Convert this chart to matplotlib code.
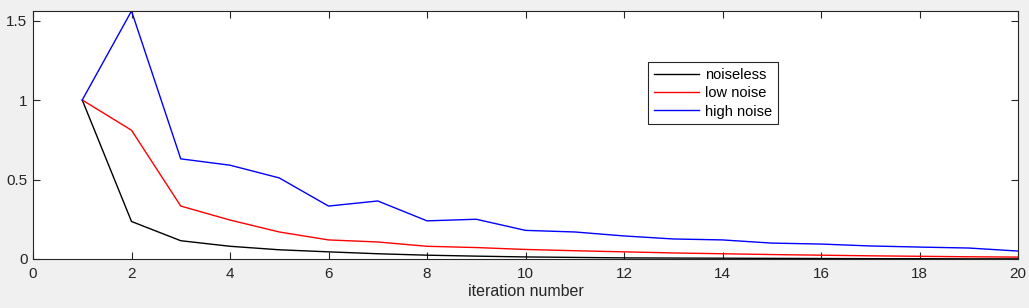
import matplotlib
matplotlib.use("Agg")
import matplotlib.pyplot as plt

iterations = list(range(1, 21))
noiseless = [1.0, 0.236, 0.115, 0.08, 0.058, 0.045, 0.033, 0.024, 0.018, 0.013,
             0.010, 0.007, 0.006, 0.005, 0.004, 0.003, 0.002, 0.002, 0.001, 0.001]
low_noise = [1.0, 0.81, 0.333, 0.245, 0.17, 0.12, 0.107, 0.08, 0.072, 0.06,
             0.052, 0.045, 0.038, 0.033, 0.028, 0.024, 0.02, 0.017, 0.014, 0.012]
high_noise = [1.0, 1.56, 0.63, 0.59, 0.51, 0.333, 0.365, 0.24, 0.25, 0.18,
              0.17, 0.145, 0.126, 0.12, 0.10, 0.094, 0.082, 0.075, 0.069, 0.05]
labels = ["noiseless", "low noise", "high noise"]
xticks = [0, 2, 4, 6, 8, 10, 12, 14, 16, 18, 20]
yticks = [0, 0.5, 1, 1.5]
ytick_labels = ["0", "0.5", "1", "1.5"]

plt.rcParams['font.family'] = ['Liberation Sans', 'DejaVu Sans']

fig = plt.figure(figsize=(10.29, 3.08), dpi=100, facecolor='#f0f0f0')
ax = fig.add_axes([33/1029, 49/308, (1018-33)/1029, (259-11)/308])
ax.set_facecolor('white')

ax.plot(iterations, noiseless, color='black', lw=1, label=labels[0])
ax.plot(iterations, low_noise, color='red', lw=1, label=labels[1])
ax.plot(iterations, high_noise, color='blue', lw=1, label=labels[2])

ax.set_xlim(0, 20)
ax.set_ylim(0, 1.56)
ax.set_xticks(xticks)
ax.set_yticks(yticks)
ax.set_yticklabels(ytick_labels)
ax.tick_params(direction='in', top=True, right=True, length=5, width=0.8,
               labelsize=11, labelcolor='#262626', colors='#262626')
ax.tick_params(axis='x', pad=6)
ax.tick_params(axis='y', pad=4)
for s in ax.spines.values():
    s.set_color('#262626')
    s.set_linewidth(0.8)
ax.set_xlabel('iteration number', fontsize=11.5, color='#262626', labelpad=2)

leg = ax.legend(loc='upper left', bbox_to_anchor=((648-33)/985, (259-62)/248),
                fontsize=10.5, frameon=True, fancybox=False, edgecolor='#262626',
                framealpha=1, handlelength=3.1, handletextpad=0.4,
                borderpad=0.4, labelspacing=0.3, borderaxespad=0)
leg.get_frame().set_linewidth(0.8)

fig.savefig('out.png', dpi=100, facecolor=fig.get_facecolor())
